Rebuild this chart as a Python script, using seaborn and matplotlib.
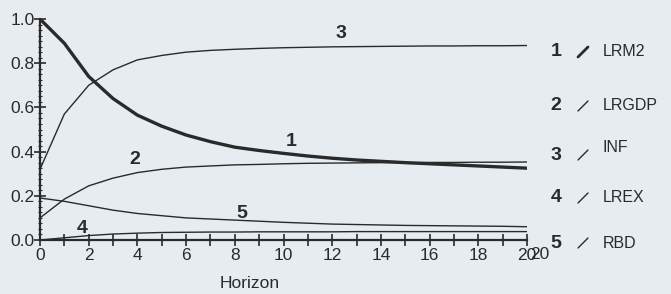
import matplotlib
matplotlib.use('Agg')
import matplotlib.pyplot as plt
import matplotlib.ticker as mticker
from matplotlib.lines import Line2D
import seaborn as sns
import pandas as pd

# values (variance decomposition style, horizon 0..20)
horizon = list(range(21))
lrm2 = [1.0, 0.89, 0.74, 0.64, 0.565, 0.515, 0.475, 0.445, 0.42, 0.405, 0.392,
        0.38, 0.37, 0.362, 0.356, 0.35, 0.345, 0.34, 0.335, 0.33, 0.325]
lrgdp = [0.10, 0.185, 0.245, 0.28, 0.305, 0.32, 0.33, 0.335, 0.34, 0.342, 0.345,
         0.347, 0.348, 0.349, 0.35, 0.35, 0.351, 0.351, 0.352, 0.352, 0.353]
inf = [0.32, 0.57, 0.70, 0.77, 0.815, 0.835, 0.85, 0.858, 0.863, 0.867, 0.87,
       0.872, 0.874, 0.875, 0.876, 0.877, 0.878, 0.878, 0.879, 0.879, 0.88]
lrex = [0.0, 0.01, 0.02, 0.027, 0.031, 0.034, 0.035, 0.036, 0.036, 0.037, 0.037,
        0.037, 0.037, 0.038, 0.038, 0.038, 0.038, 0.038, 0.038, 0.038, 0.038]
rbd = [0.19, 0.175, 0.155, 0.135, 0.12, 0.11, 0.10, 0.095, 0.09, 0.085, 0.08,
       0.076, 0.072, 0.07, 0.068, 0.066, 0.065, 0.064, 0.063, 0.062, 0.06]

series_names = ['LRM2', 'LRGDP', 'INF', 'LREX', 'RBD']
series_values = [lrm2, lrgdp, inf, lrex, rbd]
series_numbers = ['1', '2', '3', '4', '5']
# where the curve numbers sit (horizon, value)
number_pos = [(10.3, 0.445), (3.9, 0.362), (12.35, 0.935), (1.75, 0.053), (8.3, 0.121)]

ink = '#2a2a2a'
paper = '#e6ecf0'

sns.set_theme(style='ticks')
plt.rcParams['font.family'] = ['Liberation Sans', 'DejaVu Sans']

fig = plt.figure(figsize=(6.71, 2.94), dpi=100, facecolor=paper)
ax = fig.add_axes([40 / 671, 54 / 294, 487 / 671, 221 / 294])
ax.set_facecolor(paper)

df = pd.DataFrame({'Horizon': horizon})
for name, vals in zip(series_names, series_values):
    df[name] = vals

for name in series_names:
    lw = 2.4 if name == 'LRM2' else 1.0
    sns.lineplot(data=df, x='Horizon', y=name, ax=ax, color=ink, linewidth=lw)

for num, (hx, hy) in zip(series_numbers, number_pos):
    ax.text(hx, hy, num, fontsize=14, fontweight='bold', color=ink,
            ha='center', va='center')

ax.set_xlim(0, 20)
ax.set_ylim(0, 1.0)
ax.xaxis.set_major_locator(mticker.MultipleLocator(1))
ax.xaxis.set_major_formatter(mticker.FuncFormatter(
    lambda v, p: f'{int(round(v))}' if int(round(v)) % 2 == 0 else ''))
ax.yaxis.set_major_locator(mticker.MultipleLocator(0.2))
ax.yaxis.set_minor_locator(mticker.MultipleLocator(0.025))
ax.yaxis.set_major_formatter(mticker.FormatStrFormatter('%.1f'))

ax.tick_params(axis='both', which='major', direction='inout', length=8, width=1.2,
               color=ink, labelcolor=ink, labelsize=12.5)
ax.tick_params(axis='y', which='major', pad=0)
ax.tick_params(axis='x', which='major', pad=2)
ax.tick_params(axis='y', which='minor', direction='inout', length=3, width=0.8, color=ink)

for side in ['top', 'right']:
    ax.spines[side].set_visible(False)
for side in ['left', 'bottom']:
    ax.spines[side].set_color(ink)
    ax.spines[side].set_linewidth(1.6)

ax.set_ylabel('')
ax.set_xlabel('Horizon', fontsize=12.5, color=ink, va='center')
ax.xaxis.set_label_coords((250 - 40) / 487, -(284 - 240) / 221)

# the doubled "20" at the end of the axis in the original
ax.annotate('20', xy=(20, 0), xycoords=('data', 'axes fraction'), xytext=(9, -5),
            textcoords='offset points', ha='center', va='top', fontsize=12.5, color=ink)

# hand-made key on the right
key_y = [52, 106, 155, 198, 243]
for i, (num, name) in enumerate(zip(series_numbers, series_names)):
    yf = 1 - key_y[i] / 294
    fig.text(556 / 671, yf, num, fontsize=14, fontweight='bold', color=ink,
             ha='center', va='center')
    fig.add_artist(Line2D([578 / 671, 588 / 671], [yf - 5 / 294, yf + 5 / 294],
                          color=ink, linewidth=2.0 if i == 0 else 1.0,
                          transform=fig.transFigure))
    dy = 7 / 294 if name == 'INF' else 0
    fig.text(603 / 671, yf + dy, name, fontsize=11.5, color=ink, ha='left', va='center')

fig.savefig('out.png', dpi=100, facecolor=paper)
